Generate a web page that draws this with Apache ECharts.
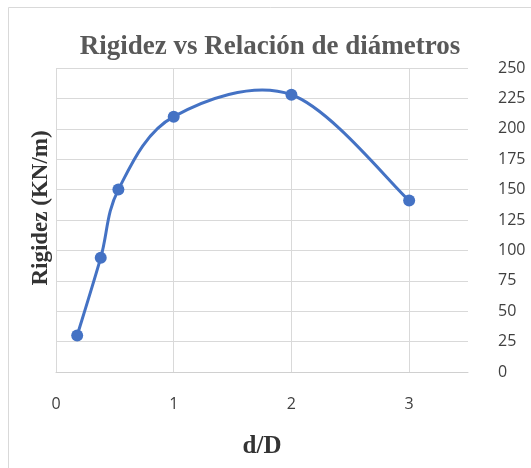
<!DOCTYPE html>
<html><head><meta charset="utf-8">
<script src="https://cdn.jsdelivr.net/npm/echarts@6/dist/echarts.min.js"></script>
<style>html,body{margin:0;padding:0;background:#fff}#c{width:531px;height:468px}</style>
</head><body><div id="c"></div>
<script>
const xValues = [0.18, 0.38, 0.53, 1, 2, 3];
const yValues = [30, 94, 150, 210, 228, 141];
const xTicks = [0, 1, 2, 3];
const yTicks = [0, 25, 50, 75, 100, 125, 150, 175, 200, 225, 250];
const titleText = 'Rigidez vs Relación de diámetros';
const xName = 'd/D';
const yName = 'Rigidez (KN/m)';

const chart = echarts.init(document.getElementById('c'), null, {renderer: 'canvas'});
const grid = '#d9d9d9';
const blue = '#4472C4';
const points = xValues.map((x, i) => [x, yValues[i]]);

// Smooth curve (Catmull-Rom style, like a spreadsheet's smoothed line) drawn through the axes' coordinate system
function renderCurve(params, api) {
  if (params.dataIndex !== 0) return {type: 'group', children: []};
  const p = points.map(d => api.coord(d));
  const children = [];
  for (let i = 0; i < p.length - 1; i++) {
    const p0 = p[Math.max(i - 1, 0)], p1 = p[i], p2 = p[i + 1], p3 = p[Math.min(i + 2, p.length - 1)];
    children.push({
      type: 'bezierCurve',
      shape: {
        x1: p1[0], y1: p1[1], x2: p2[0], y2: p2[1],
        cpx1: p1[0] + (p2[0] - p0[0]) / 6, cpy1: p1[1] + (p2[1] - p0[1]) / 6,
        cpx2: p2[0] - (p3[0] - p1[0]) / 6, cpy2: p2[1] - (p3[1] - p1[1]) / 6
      },
      style: {stroke: blue, lineWidth: 3, fill: null, lineCap: 'round'}
    });
  }
  return {type: 'group', children};
}

chart.setOption({
  animation: false,
  backgroundColor: '#fff',
  graphic: [
    {type: 'rect', shape: {x: 8.5, y: 7.5, width: 600, height: 600}, style: {fill: 'none', stroke: '#d9d9d9', lineWidth: 1}, silent: true},
    {type: 'text', x: 41, y: 208, rotation: Math.PI / 2,
      style: {text: yName, fontFamily: 'Liberation Serif', fontWeight: 'bold', fontSize: 23, fill: '#333', align: 'center', verticalAlign: 'middle'}}
  ],
  title: {text: titleText, left: 265, top: 29, textAlign: 'center',
    textStyle: {fontFamily: 'Liberation Serif', fontWeight: 'bold', fontSize: 27, color: '#595959'}},
  grid: {left: 56, right: 63, top: 68, bottom: 96},
  xAxis: {type: 'value', min: 0, max: 3.5, interval: 1,
    name: xName, nameLocation: 'middle', nameGap: 62,
    nameTextStyle: {fontFamily: 'Liberation Serif', fontWeight: 'bold', fontSize: 25, color: '#333'},
    axisLine: {show: true, lineStyle: {color: '#d0d0d0', width: 1}},
    axisTick: {show: false},
    axisLabel: {margin: 24, fontFamily: 'Open Sans', fontSize: 16, color: '#404040',
      formatter: v => xTicks.includes(v) ? String(v) : ''},
    splitLine: {show: true, lineStyle: {color: [grid, grid, grid, grid, 'rgba(0,0,0,0)'], width: 1}}
  },
  yAxis: {type: 'value', min: 0, max: 250, interval: 25, position: 'right',
    axisLine: {show: false}, axisTick: {show: false},
    axisLabel: {margin: 30, fontFamily: 'Open Sans', fontSize: 16, color: '#404040',
      formatter: v => yTicks.includes(v) ? String(v) : ''},
    splitLine: {show: true, lineStyle: {color: grid, width: 1}}
  },
  series: [
    {type: 'custom', data: points, renderItem: renderCurve, silent: true, z: 2},
    {type: 'scatter', data: points, symbol: 'circle', symbolSize: 12,
      itemStyle: {color: blue, opacity: 1}, z: 3}
  ]
});
</script></body></html>
